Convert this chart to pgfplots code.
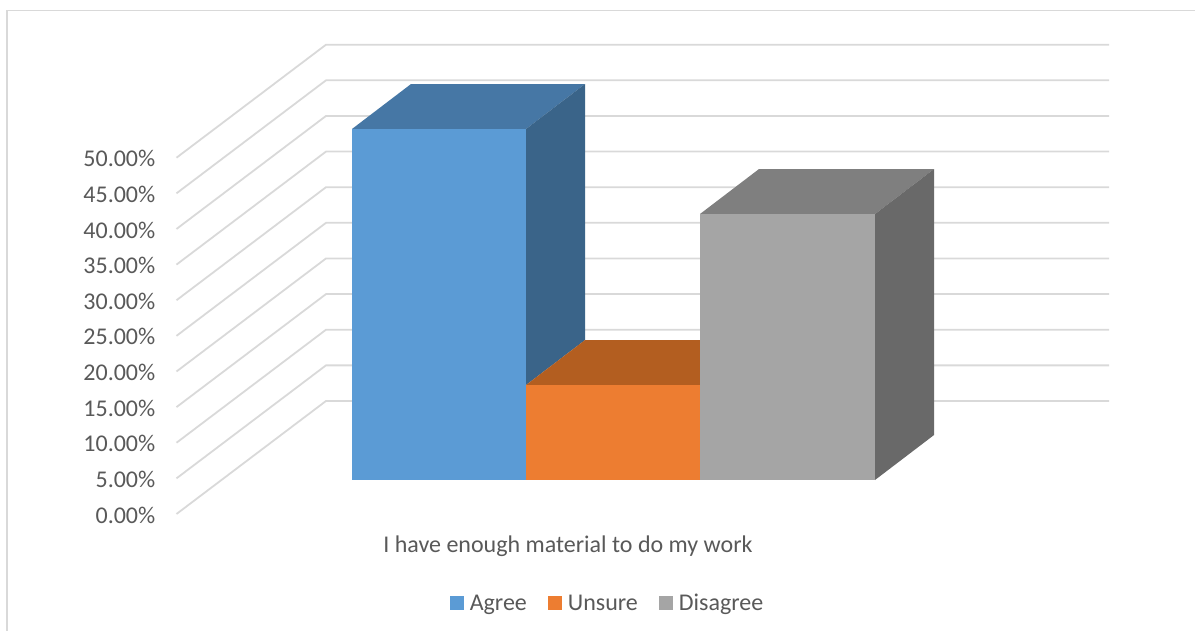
\documentclass[border=0pt]{standalone}
\usepackage{fontspec}
\setmainfont{Carlito}
\usepackage{pgfplots}
\pgfplotsset{compat=1.18}
\definecolor{txt}{HTML}{595959}
\definecolor{gridc}{HTML}{D9D9D9}
\definecolor{agF}{HTML}{5B9BD5}
\definecolor{agT}{HTML}{4677A5}
\definecolor{agS}{HTML}{3A6489}
\definecolor{unF}{HTML}{ED7D31}
\definecolor{unT}{HTML}{B35E20}
\definecolor{diF}{HTML}{A5A5A5}
\definecolor{diT}{HTML}{7F7F7F}
\definecolor{diS}{HTML}{696969}
\newcommand{\chartfont}{\fontsize{24}{28}\selectfont}
\begin{document}
\begin{tikzpicture}
\useasboundingbox (0,0) rectangle (1195pt,631pt);
\begin{axis}[
  at={(176.5pt,117pt)}, anchor=south west,
  scale only axis, width=932.5pt, height=469.3pt,
  xmin=176.5, xmax=1109, ymin=0, ymax=65.86,
  clip=false,
  axis line style={draw=none}, tick style={draw=none}, major tick length=0pt,
  ytick={0,5,...,50},
  /pgf/number format/assume math mode=true,
  yticklabel={\pgfmathprintnumber[fixed,fixed zerofill,precision=2,assume math mode=true]{\tick}\%},
  yticklabel style={font=\chartfont, text=txt, anchor=east, inner xsep=0pt, xshift=-21pt, yshift=-1pt},
  xtick={568}, xticklabels={I have enough material to do my work},
  xticklabel style={font=\chartfont, text=txt, anchor=center, yshift=-32pt},
  legend columns=3,
  legend image code/.code={\path[#1] (0pt,-7pt) rectangle (14pt,7pt); \path (18pt,0pt);},
  legend style={at={(axis cs:607.5,-12.5)}, anchor=center, draw=none, fill=none,
    font=\chartfont, text=txt, inner sep=0pt,
    /tikz/every even column/.style={column sep=19pt}},
]
% chart frame
\addplot[gridc, line width=1.2pt, forget plot] coordinates {(7,-16.42)(7,70.66)(1195,70.66)};
% walls: gridlines
\addplot[gridc, line width=1.8pt, forget plot] coordinates {(176.5,0)(326,15.86)(1109,15.86)};
\addplot[gridc, line width=1.8pt, forget plot] coordinates {(176.5,5)(326,20.86)(1109,20.86)};
\addplot[gridc, line width=1.8pt, forget plot] coordinates {(176.5,10)(326,25.86)(1109,25.86)};
\addplot[gridc, line width=1.8pt, forget plot] coordinates {(176.5,15)(326,30.86)(1109,30.86)};
\addplot[gridc, line width=1.8pt, forget plot] coordinates {(176.5,20)(326,35.86)(1109,35.86)};
\addplot[gridc, line width=1.8pt, forget plot] coordinates {(176.5,25)(326,40.86)(1109,40.86)};
\addplot[gridc, line width=1.8pt, forget plot] coordinates {(176.5,30)(326,45.86)(1109,45.86)};
\addplot[gridc, line width=1.8pt, forget plot] coordinates {(176.5,35)(326,50.86)(1109,50.86)};
\addplot[gridc, line width=1.8pt, forget plot] coordinates {(176.5,40)(326,55.86)(1109,55.86)};
\addplot[gridc, line width=1.8pt, forget plot] coordinates {(176.5,45)(326,60.86)(1109,60.86)};
\addplot[gridc, line width=1.8pt, forget plot] coordinates {(176.5,50)(326,65.86)(1109,65.86)};
% Agree: 49.26 above floor 4.77
\addplot[fill=agT, draw=none, forget plot] coordinates {(352,54.03)(411,60.34)(585,60.34)(526,54.03)} -- cycle;
\addplot[fill=agS, draw=none, forget plot] coordinates {(526,54.03)(585,60.34)(585,24.41)(526,18.10)} -- cycle;
\addplot[fill=agF, draw=none] coordinates {(352,4.77)(352,54.03)(526,54.03)(526,4.77)} -- cycle;
\addlegendentry{Agree}
% Unsure: 13.33
\addplot[fill=unT, draw=none, forget plot] coordinates {(526,18.10)(585,24.41)(759,24.41)(700,18.10)} -- cycle;
\addplot[fill=unF, draw=none] coordinates {(526,4.77)(526,18.10)(700,18.10)(700,4.77)} -- cycle;
\addlegendentry{Unsure}
% Disagree: 37.33
\addplot[fill=diT, draw=none, forget plot] coordinates {(700,42.10)(759,48.41)(934,48.41)(875,42.10)} -- cycle;
\addplot[fill=diS, draw=none, forget plot] coordinates {(875,42.10)(934,48.41)(934,11.08)(875,4.77)} -- cycle;
\addplot[fill=diF, draw=none] coordinates {(700,4.77)(700,42.10)(875,42.10)(875,4.77)} -- cycle;
\addlegendentry{Disagree}
\end{axis}
\end{tikzpicture}
\end{document}
